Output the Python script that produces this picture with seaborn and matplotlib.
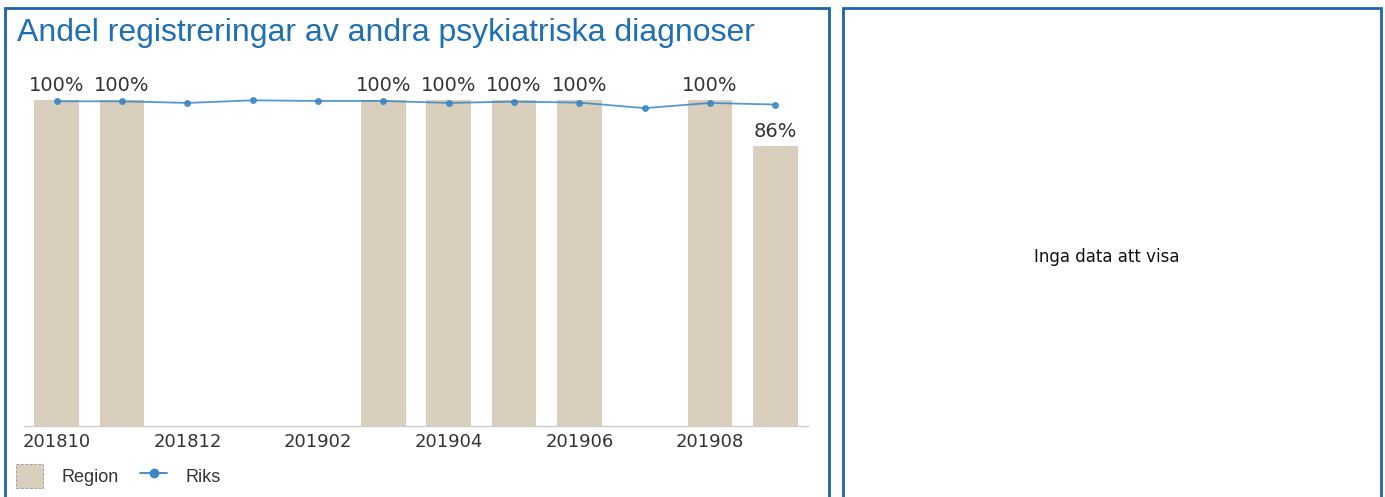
import numpy as np
import pandas as pd
import seaborn as sns
import matplotlib.pyplot as plt
from matplotlib.patches import Rectangle
from matplotlib.lines import Line2D

# data
months = ["201810", "201811", "201812", "201901", "201902", "201903",
          "201904", "201905", "201906", "201907", "201908", "201909"]
region = [1.00, 1.00, np.nan, np.nan, np.nan, 1.00,
          1.00, 1.00, 1.00, np.nan, 1.00, 0.86]
riks = [0.996, 0.996, 0.991, 0.999, 0.997, 0.997,
        0.991, 0.995, 0.992, 0.975, 0.991, 0.986]
tick_labels = ["201810", "201812", "201902", "201904", "201906", "201908"]

df = pd.DataFrame({"month": months, "Region": region, "Riks": riks})

sns.set_theme(style="white")
plt.rcParams['font.family'] = ['DejaVu Sans']

W, H = 1385, 497
fig = plt.figure(figsize=(W / 100, H / 100), dpi=100)

border_col = "#1f64a6"
# panel borders (pixel coords -> figure fraction)
def px_rect(x0, y0, x1, y1):
    return Rectangle((x0 / W, 1 - y1 / H), (x1 - x0) / W, (y1 - y0) / H,
                     transform=fig.transFigure, fill=False,
                     edgecolor=border_col, linewidth=2)

fig.patches.append(px_rect(5, 8, 829, 510))
fig.patches.append(px_rect(843, 8, 1381, 510))

fig.text(17 / W, 1 - 33 / H, "Andel registreringar av andra psykiatriska diagnoser",
         fontsize=23, color="#1f6fb2", va="center", ha="left",
         family="Liberation Sans")
fig.text(1107 / W, 1 - 257 / H, "Inga data att visa", fontsize=12,
         color="#111111", ha="center", va="center")

# main axes
ax_left, ax_right, ax_top, ax_bottom = 24, 808, 70, 426
ax = fig.add_axes([ax_left / W, 1 - ax_bottom / H,
                   (ax_right - ax_left) / W, (ax_bottom - ax_top) / H])

x = np.arange(len(months))
sns.barplot(data=df, x="month", y="Region", color="#d9cfbc", width=0.68,
            saturation=1, linewidth=0, ax=ax)
ax.plot(x, df["Riks"], color="#3a86c4", linewidth=1.3, marker="o",
        markersize=4, alpha=0.85)

for i, v in enumerate(region):
    if not np.isnan(v):
        ax.text(i, v + 0.015, f"{v:.0%}", ha="center", va="bottom",
                fontsize=14, color="#333333")

ax.set_xlim(-0.5, 11.5)
ax.set_ylim(0, 1.092)
ax.set_yticks([])
ax.set_xticks([months.index(t) for t in tick_labels])
ax.set_xticklabels(tick_labels, fontsize=13, color="#333333")
ax.tick_params(axis="x", length=0, pad=5)
ax.set_xlabel("")
ax.set_ylabel("")
for s in ["top", "right", "left"]:
    ax.spines[s].set_visible(False)
ax.spines["bottom"].set_color("#cccccc")
ax.spines["bottom"].set_linewidth(1)

# legend
handles = [Rectangle((0, 0), 1, 1, facecolor="#d9cfbc", edgecolor="#999999",
                     linestyle="--", linewidth=0.6),
           Line2D([0], [0], color="#3a86c4", marker="o", markersize=6,
                  linewidth=1.3)]
fig.legend(handles, ["Region", "Riks"], loc="center left",
           bbox_to_anchor=(0 / W, 1 - 476 / H), ncol=2, frameon=False,
           fontsize=13, handlelength=1.5, handleheight=1.6,
           columnspacing=1.2, handletextpad=1.0, labelcolor="#333333",
           prop={"family": "Liberation Sans", "size": 13})

fig.savefig("out.png", dpi=100)
